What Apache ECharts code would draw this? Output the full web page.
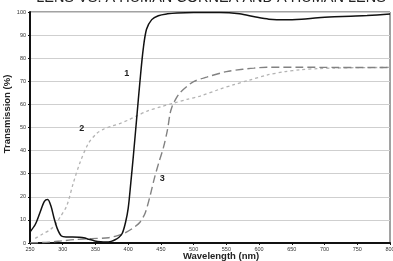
<!DOCTYPE html>
<html>
<head>
<meta charset="utf-8">
<script src="https://cdn.jsdelivr.net/npm/echarts@6/dist/echarts.min.js"></script>
<style>
  html, body { margin: 0; padding: 0; background: #fff; }
  #chart { width: 393px; height: 261px; }
</style>
</head>
<body>
<div id="chart"></div>
<script>
// Transmission curves, [wavelength nm, transmission %]
const curve1 = [
  [250, 4.8], [258, 8], [265, 13], [272, 18], [277, 18.8], [282, 16], [287, 10.5],
  [292, 6], [298, 3], [305, 2.6], [315, 2.6], [325, 2.5], [332, 2.3], [340, 1.6],
  [349, 0.9], [358, 0.5], [366, 0.4], [374, 0.7], [380, 1.4], [386, 2.5], [391, 4.2],
  [396, 9], [400, 15], [404, 26], [408, 38], [413, 54], [418, 70], [423, 84],
  [428, 92.5], [436, 96.7], [446, 98.4], [460, 99.2], [475, 99.6], [500, 99.8],
  [540, 99.8], [570, 99.2], [595, 97.8], [615, 96.9], [640, 96.6], [665, 96.9],
  [690, 97.5], [715, 97.9], [740, 98.2], [765, 98.5], [800, 99.1]
];
const curve2 = [
  [258, 2], [270, 4], [281, 5.8], [290, 8.5], [296, 11.2], [306, 16], [316, 25.8],
  [326, 34.5], [339, 43], [352, 47.5], [362, 49.2], [375, 50.6], [388, 51.8],
  [400, 53.2], [413, 55], [430, 57.2], [450, 59], [469, 60.5], [490, 62.2],
  [510, 63.6], [540, 66.6], [560, 68.4], [585, 70.5], [612, 72.7], [640, 74.2],
  [663, 75], [690, 75.5], [713, 75.7], [750, 75.9], [800, 76]
];
const curve3 = [
  [250, 0.1], [270, 0.2], [285, 0.5], [298, 0.9], [319, 1.5], [344, 1.9], [370, 2.3],
  [385, 3.3], [398, 4.8], [410, 7], [418, 9], [426, 13], [434, 21], [440, 28],
  [447, 35], [454, 41.5], [460, 49], [464, 56], [467, 59], [472, 62], [479, 65],
  [490, 67.8], [500, 69.9], [520, 71.8], [550, 74.2], [575, 75.2], [592, 75.7],
  [612, 76.1], [660, 76.1], [720, 76], [800, 76]
];
const curveTags = [
  { name: '1', coord: [398, 73.2] },
  { name: '2', coord: [329, 49.6] },
  { name: '3', coord: [452, 28] }
];
const xTicks = { min: 250, max: 800, step: 50 };
const yTicks = { min: 0, max: 100, step: 10 };

const chart = echarts.init(document.getElementById('chart'));

const tagSeries = (idx) => ({
  symbol: 'circle',
  symbolSize: 1,
  silent: true,
  itemStyle: { color: 'rgba(0,0,0,0)' },
  label: { show: true, position: 'inside', fontSize: 9, fontWeight: 'bold', color: '#222',
    fontFamily: 'Liberation Sans', formatter: curveTags[idx].name },
  data: [{ name: curveTags[idx].name, coord: curveTags[idx].coord }]
});

chart.setOption({
  animation: false,
  textStyle: { fontFamily: 'Liberation Sans' },
  grid: { left: 30, right: 3, top: 12, bottom: 18, outerBoundsMode: 'none',
    show: true, borderColor: '#444', borderWidth: 1 },
  graphic: [
    { type: 'text', x: 211, y: 5, z: 10,
      style: { text: 'LENS VS. A HUMAN CORNEA AND A HUMAN LENS', fontSize: 14.5,
        fontFamily: 'Liberation Sans', fill: '#222', align: 'center', verticalAlign: 'bottom' } },
    { type: 'text', x: 221, y: 251, style: { text: 'Wavelength (nm)', fontSize: 9.5,
        fontWeight: 'bold', fontFamily: 'Liberation Sans', fill: '#222', align: 'center' } },
    { type: 'text', x: 7, y: 114, rotation: Math.PI / 2,
      style: { text: 'Transmission (%)', fontSize: 9.5, fontWeight: 'bold',
        fontFamily: 'Liberation Sans', fill: '#222', align: 'center', verticalAlign: 'middle' } }
  ],
  xAxis: {
    type: 'value', min: xTicks.min, max: xTicks.max, interval: xTicks.step,
    axisLine: { lineStyle: { color: '#111', width: 2 } },
    axisTick: { length: 2, lineStyle: { color: '#111' } },
    axisLabel: { fontSize: 5.5, color: '#333', margin: 3, showMaxLabel: true },
    splitLine: { show: false }
  },
  yAxis: {
    type: 'value', min: yTicks.min, max: yTicks.max, interval: yTicks.step,
    axisLine: { show: true, lineStyle: { color: '#111', width: 2 } },
    axisTick: { show: true, length: 2, lineStyle: { color: '#111' } },
    axisLabel: { fontSize: 5.5, color: '#333', margin: 4 },
    splitLine: { lineStyle: { color: '#cfcfcf', width: 1 } }
  },
  series: [
    { type: 'line', data: curve2, smooth: 0.3, symbol: 'none',
      lineStyle: { color: '#b3b3b3', width: 1.3, type: [3, 3] }, markPoint: tagSeries(1) },
    { type: 'line', data: curve3, smooth: 0.3, symbol: 'none',
      lineStyle: { color: '#828282', width: 1.4, type: [8, 4] }, markPoint: tagSeries(2) },
    { type: 'line', data: curve1, smooth: 0.3, symbol: 'none',
      lineStyle: { color: '#111', width: 1.5 }, markPoint: tagSeries(0) }
  ]
});
</script>
</body>
</html>
